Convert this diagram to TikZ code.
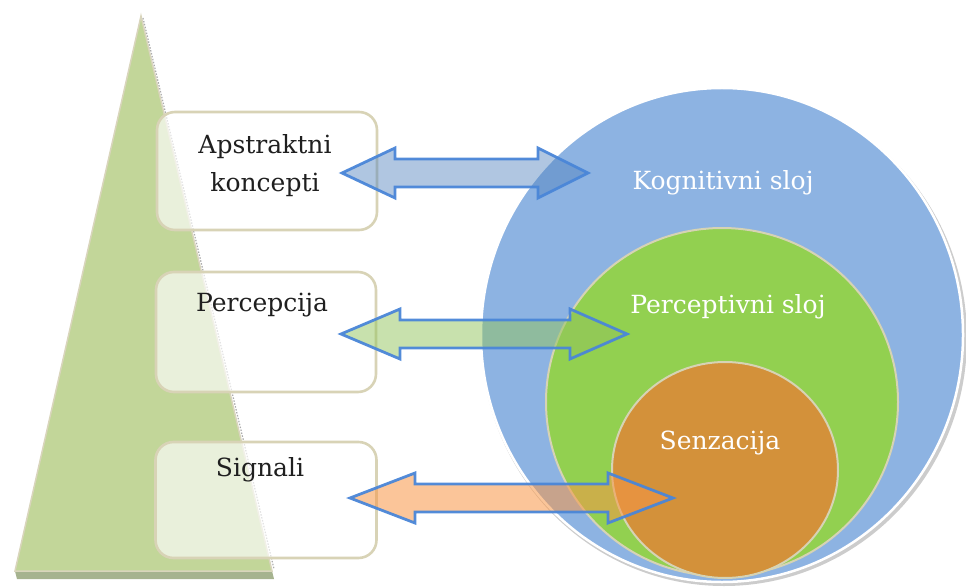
\documentclass[tikz,border=0pt]{standalone}
\usepackage{fontspec}
\setmainfont{DejaVu Serif}
\usetikzlibrary{calc,shapes.geometric}

\definecolor{pyramid}{HTML}{C2D699}
\definecolor{pyramidedge}{HTML}{D9D5BC}
\definecolor{pyramidbase}{HTML}{A6B38F}
\definecolor{boxedge}{HTML}{D8D3B6}
\definecolor{cogblue}{HTML}{8DB3E2}
\definecolor{percgreen}{HTML}{92D050}
\definecolor{senorange}{HTML}{D3913A}
\definecolor{ringedge}{HTML}{D6D3B4}
\definecolor{arrowline}{HTML}{4A86D8}
\definecolor{arrowblue}{HTML}{4F81BD}
\definecolor{arrowgreen}{HTML}{92C45C}
\definecolor{arroworange}{HTML}{F79646}

\tikzset{
  levelbox/.style={draw=boxedge, line width=2.6pt, fill=white, fill opacity=0.65,
    draw opacity=1, rounded corners=18pt, inner sep=0pt},
  boxlabel/.style={font=\fontsize{25}{38}\selectfont, text=black!88, align=center, inner sep=0pt},
  layer/.style={ellipse, inner sep=0pt},
  layerlabel/.style={font=\fontsize{25}{30}\selectfont, text=white, inner sep=0pt},
  blockarrow/.style={draw=arrowline, line width=2.8pt, line join=miter, draw opacity=0.95}
}

% double block arrow between two named tip coordinates:
% #1 style, #2 left tip, #3 right tip, #4 left head length, #5 right head length
\newcommand{\twinarrow}[5]{%
  \draw[blockarrow,#1] (#2) -- ++(#4,-25) -- ++(0,11)
    -- ($(#3)+(-#5,-14)$) -- ++(0,-11) -- (#3) -- ++(-#5,25) -- ++(0,-11)
    -- ($(#2)+(#4,14)$) -- ++(0,11) -- cycle;}

\begin{document}
\begin{tikzpicture}[x=1pt,y=-1pt]
  \useasboundingbox (0,0) rectangle (966,588);

  % pyramid with its base slab and shaded right edge
  \fill[pyramidbase] (15,571) -- (272,571) -- (274,579) -- (17,579) -- cycle;
  \fill[pyramid, draw=pyramidedge, line width=1.5pt] (141,16) -- (272,571) -- (15,571) -- cycle;
  \draw[gray!65, line width=1.2pt, dash pattern=on 1.5pt off 1.5pt] (143,18) -- (274,569);

  % level boxes
  \node[levelbox, minimum width=220pt, minimum height=118pt] (b1) at (267,171) {};
  \node[levelbox, minimum width=220pt, minimum height=120pt] (b2) at (266,332) {};
  \node[levelbox, minimum width=221pt, minimum height=116pt] (b3) at (266,500) {};

  \node[boxlabel] (t1) at (265,166) {Apstraktni\\koncepti};
  \node[boxlabel] (t2) at (262,305) {Percepcija};
  \node[boxlabel] (t3) at (260,470) {Signali};

  % nested layers
  \fill[gray!40] (724,338) ellipse (243pt and 248pt);
  \node[layer, fill=cogblue, draw=white, line width=2.5pt,
        minimum width=482pt, minimum height=494pt] (cog) at (722,335) {};
  \node[layer, fill=percgreen, draw=ringedge, line width=2pt,
        minimum width=352pt, minimum height=348pt] (perc) at (722,402) {};
  \node[layer, fill=senorange, draw=ringedge, line width=2pt,
        minimum width=226pt, minimum height=216pt] (sens) at (725,470) {};

  \node[layerlabel] (l1) at (723,183) {Kognitivni sloj};
  \node[layerlabel] (l2) at (728,307) {Perceptivni sloj};
  \node[layerlabel] (l3) at (720,443) {Senzacija};

  % arrow tips
  \coordinate (a1l) at (342,173);
  \coordinate (a1r) at (588,173);
  \coordinate (a2l) at (341,334);
  \coordinate (a2r) at (627,334);
  \coordinate (a3l) at (350,498);
  \coordinate (a3r) at (673,498);

  \twinarrow{fill=arrowblue, fill opacity=0.45}{a1l}{a1r}{53}{50}
  \twinarrow{fill=arrowgreen, fill opacity=0.5}{a2l}{a2r}{59}{57}
  \twinarrow{fill=arroworange, fill opacity=0.55}{a3l}{a3r}{65}{65}
\end{tikzpicture}
\end{document}
